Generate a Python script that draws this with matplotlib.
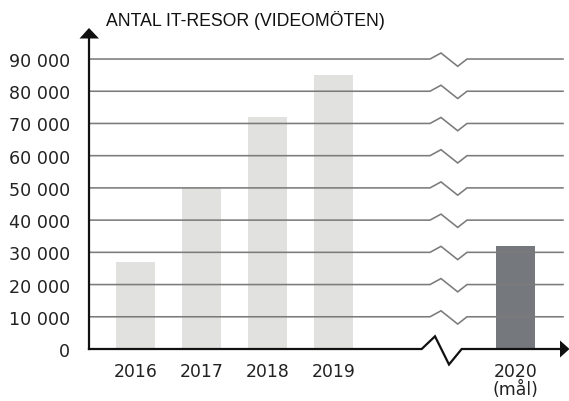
import matplotlib
matplotlib.use("Agg")
import matplotlib.pyplot as plt
import numpy as np

# ---- data ----
categories = ["2016", "2017", "2018", "2019", "2020\n(mål)"]
values = [27000, 50000, 72000, 85000, 32000]
bar_colors = ["#e1e2e0", "#e1e2e0", "#e1e2e0", "#e1e2e0", "#75787d"]
y_ticks = [0, 10000, 20000, 30000, 40000, 50000, 60000, 70000, 80000, 90000]
y_tick_labels = ["0", "10 000", "20 000", "30 000", "40 000", "50 000",
                 "60 000", "70 000", "80 000", "90 000"]
title = "ANTAL IT-RESOR (VIDEOMÖTEN)"

# ---- layout ----
W, H = 569, 402
fig = plt.figure(figsize=(W / 100, H / 100), dpi=100)
fig.patch.set_facecolor("white")

px_per_unit = 66.0       # pixels per category step
x0_px = 135.5            # pixel centre of first bar
px_per_10k = 32.22
y0_px = 350.0            # pixel row of value 0

ax_left_px, ax_right_px = 89, 569
ax = fig.add_axes([ax_left_px / W, (H - y0_px) / H,
                   (ax_right_px - ax_left_px) / W, 10 * px_per_10k / H])
xmin = (ax_left_px - x0_px) / px_per_unit
xmax = (ax_right_px - x0_px) / px_per_unit
ax.set_xlim(xmin, xmax)
ax.set_ylim(0, 100000)
for s in ax.spines.values():
    s.set_visible(False)

positions = [0, 1, 2, 3, 5.76]
ax.bar(positions, values, width=39 / px_per_unit, color=bar_colors,
       zorder=1, linewidth=0)

def px2x(px):
    return (px - x0_px) / px_per_unit

def dpx2y(dpx):
    return dpx * 10000 / px_per_10k

grid_color = "#7b7b7b"
# gridlines with break zigzag
for v in y_ticks[1:]:
    xs = [xmin, px2x(430), px2x(441), px2x(457.7), px2x(467), px2x(563)]
    ys = [v, v, v + dpx2y(6), v - dpx2y(7.3), v, v]
    ax.plot(xs, ys, color=grid_color, lw=1.15, zorder=2, clip_on=False,
            solid_joinstyle="miter")

# x axis with break
xs = [xmin, px2x(421.7), px2x(435), px2x(449), px2x(461.7), px2x(562)]
ys = [0, 0, dpx2y(12.7), -dpx2y(15.5), 0, 0]
ax.plot(xs, ys, color="#111111", lw=1.6, zorder=3, clip_on=False,
        solid_joinstyle="miter")
# x arrow head
ax.fill([px2x(560), px2x(569.5), px2x(560)],
        [dpx2y(8.5), 0, -dpx2y(8.5)], color="#111111", clip_on=False,
        zorder=3, lw=0)

# y axis with arrow
ax.plot([xmin, xmin], [0, dpx2y(y0_px - 39)], color="#111111", lw=1.6,
        zorder=3, clip_on=False)
ax.fill([px2x(79.5), px2x(89), px2x(99)],
        [dpx2y(y0_px - 39.5), dpx2y(y0_px - 29), dpx2y(y0_px - 39.5)],
        color="#111111", clip_on=False, zorder=3, lw=0)

# ticks
num_font = "DejaVu Sans"
fs = 12.4
ax.set_yticks(y_ticks)
ax.set_yticklabels(y_tick_labels, fontfamily=num_font, fontsize=12.6,
                   color="#222222")
ax.tick_params(axis="y", length=0, pad=13.5)
ax.set_xticks(positions)
ax.set_xticklabels([c.split("\n")[0] for c in categories],
                   fontfamily=num_font, fontsize=fs, color="#222222")
ax.tick_params(axis="x", length=0, pad=9.5)
# second line of multi-line category labels
for pos, c in zip(positions, categories):
    parts = c.split("\n")
    if len(parts) > 1:
        ax.text(pos, -dpx2y(40), parts[1], fontfamily=num_font, fontsize=fs,
                color="#222222", ha="center", va="center", clip_on=False)

fig.text(106 / W, 1 - 20 / H, title, fontfamily="Liberation Sans",
         fontsize=12.7, color="#111111", va="center", ha="left")

fig.savefig("out.png", dpi=100)
